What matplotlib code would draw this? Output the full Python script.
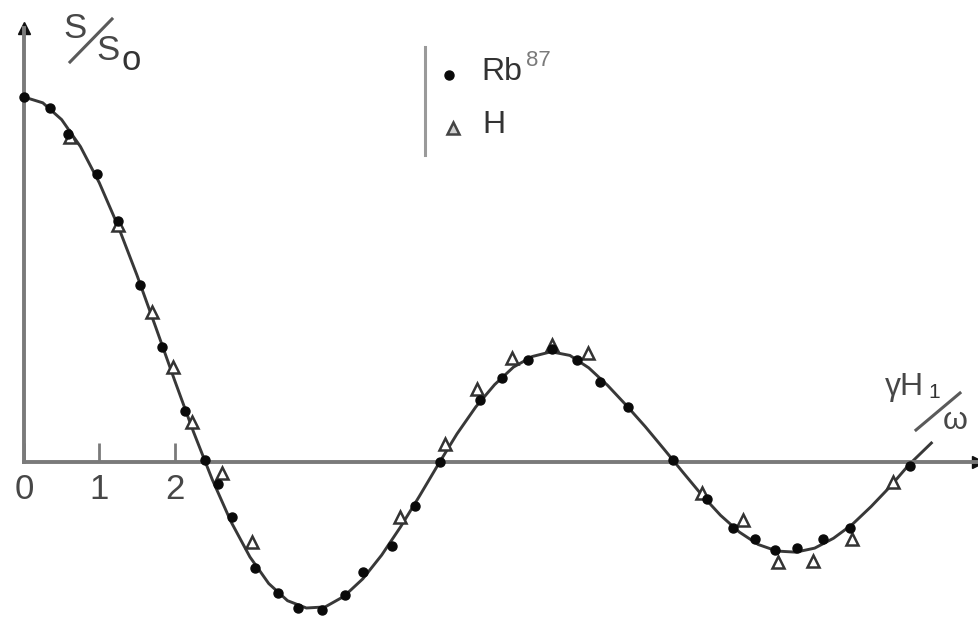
import matplotlib
matplotlib.use("Agg")
import matplotlib.pyplot as plt
from matplotlib.lines import Line2D

# Smooth curve S/S0 versus gamma*H1/omega
curve_x = [0.0, 0.25, 0.5, 0.75, 1.0, 1.25, 1.5, 1.75, 2.0, 2.25, 2.5, 2.75,
           3.0, 3.25, 3.5, 3.75, 4.0, 4.25, 4.5, 4.75, 5.0, 5.25, 5.5, 5.75,
           6.0, 6.25, 6.5, 6.75, 7.0, 7.25, 7.5, 7.75, 8.0, 8.25, 8.5, 8.75,
           9.0, 9.25, 9.5, 9.75, 10.0, 10.25, 10.5, 10.75, 11.0, 11.25, 11.5,
           11.75, 12.05]
curve_y = [1.0, 0.984, 0.938, 0.864, 0.765, 0.646, 0.512, 0.369, 0.224, 0.083,
           -0.048, -0.164, -0.260, -0.333, -0.380, -0.400, -0.397, -0.368,
           -0.320, -0.255, -0.178, -0.094, -0.007, 0.077, 0.151, 0.212, 0.260,
           0.289, 0.302, 0.292, 0.258, 0.210, 0.155, 0.097, 0.035, -0.028,
           -0.090, -0.146, -0.192, -0.226, -0.244, -0.247, -0.236, -0.209,
           -0.171, -0.122, -0.068, -0.008, 0.052]

# Rb87 measurements (filled dots)
rb_x = [0.0, 0.347, 0.589, 0.973, 1.245, 1.538, 1.830, 2.133, 2.406, 2.577,
        2.759, 3.072, 3.375, 3.637, 3.960, 4.263, 4.505, 4.889, 5.191, 5.525,
        6.059, 6.352, 6.695, 7.008, 7.341, 7.654, 8.017, 8.623, 9.067, 9.420,
        9.703, 9.975, 10.268, 10.611, 10.964, 11.762]
rb_y = [1.0, 0.97, 0.90, 0.79, 0.66, 0.485, 0.315, 0.14, 0.005, -0.06, -0.15,
        -0.29, -0.36, -0.40, -0.405, -0.365, -0.30, -0.23, -0.12, 0.0, 0.17,
        0.23, 0.28, 0.31, 0.28, 0.22, 0.15, 0.005, -0.10, -0.18, -0.21, -0.24,
        -0.235, -0.21, -0.18, -0.01]

# H measurements (open triangles)
h_x = [0.609, 1.245, 1.699, 1.982, 2.234, 2.628, 3.032, 4.990, 5.595, 6.019,
       6.483, 7.008, 7.493, 9.007, 9.552, 10.016, 10.480, 10.995, 11.540]
h_y = [0.89, 0.65, 0.41, 0.26, 0.11, -0.03, -0.22, -0.15, 0.05, 0.20, 0.285,
       0.32, 0.30, -0.085, -0.16, -0.275, -0.27, -0.21, -0.055]

tick_vals = [0, 1, 2]
tick_labels = ["0", "1", "2"]

W, H = 979, 622
fig = plt.figure(figsize=(W / 100, H / 100), dpi=100)
ax = fig.add_axes([0, 0, 1, 1])
x0px, y0px, sx, sy = 24, 462, 75.3, 365
ax.set_xlim(-x0px / sx, (W - x0px) / sx)
ax.set_ylim(-(H - y0px) / sy, y0px / sy)

axis_col = "#7a7a7a"
ink = "#383838"
txtc = "#474747"
font = "Liberation Sans"

for s in ["top", "right"]:
    ax.spines[s].set_visible(False)
ax.spines["left"].set_position(("data", 0))
ax.spines["bottom"].set_position(("data", 0))
ax.spines["left"].set_bounds(0, 1.19)
ax.spines["bottom"].set_bounds(0, 12.7)
for s in ["left", "bottom"]:
    ax.spines[s].set_color(axis_col)
    ax.spines[s].set_linewidth(2.8)

ax.set_yticks([])
ax.set_xticks(tick_vals)
ax.set_xticklabels(tick_labels, fontsize=25, color=txtc, family=font)
ax.tick_params(axis="x", direction="in", length=14, width=2, color=axis_col,
               pad=8)

# axis arrow heads
ax.plot([12.67], [0], marker=">", color="#111111", markersize=8, clip_on=False)
ax.plot([0], [1.19], marker="^", color="#111111", markersize=8, clip_on=False)

ax.plot(curve_x, curve_y, color=ink, lw=2.1, zorder=2)
ax.plot(h_x, h_y, linestyle="none", marker="^", markersize=9,
        markerfacecolor="white", markeredgecolor="#333333", markeredgewidth=1.8,
        zorder=3)
ax.plot(rb_x, rb_y, linestyle="none", marker="o", markersize=6.5,
        color="#0a0a0a", zorder=4)


def fx(px):
    return px / W


def fy(py):
    return 1 - py / H


tt = ax.transAxes

# y label  S/S0 (slanted fraction)
ax.text(fx(75), fy(29), "S", transform=tt, fontsize=25, color=txtc,
        ha="center", va="center", family=font)
ax.add_line(Line2D([fx(70), fx(112)], [fy(62), fy(19)], transform=tt,
                   color="#5a5a5a", lw=2.2))
ax.text(fx(108), fy(50), "S", transform=tt, fontsize=25, color=txtc,
        ha="center", va="center", family=font)
ax.text(fx(131), fy(61), "o", transform=tt, fontsize=25, color="#333333",
        ha="center", va="center", family=font)

# x label  gamma H1 / omega
ax.text(fx(904), fy(387), "γH", transform=tt, fontsize=23, color=txtc,
        ha="center", va="center", family=font)
ax.text(fx(934), fy(393), "1", transform=tt, fontsize=15, color="#333333",
        ha="center", va="center", family=font)
ax.add_line(Line2D([fx(916), fx(960)], [fy(430), fy(393)], transform=tt,
                   color="#5a5a5a", lw=2.2))
ax.text(fx(955), fy(421), "ω", transform=tt, fontsize=23, color=txtc,
        ha="center", va="center", family=font)

# legend with bracket
ax.add_line(Line2D([fx(425), fx(425)], [fy(47), fy(155)], transform=tt,
                   color="#9a9a9a", lw=2.2))
ax.plot([fx(449)], [fy(75)], transform=tt, marker="o", color="#0a0a0a",
        markersize=6.5)
ax.plot([fx(453)], [fy(128)], transform=tt, marker="^", markersize=9,
        markerfacecolor="#cfcfcf", markeredgecolor="#444444",
        markeredgewidth=1.8)
ax.text(fx(481), fy(72), "Rb", transform=tt, fontsize=23, color="#333333",
        ha="left", va="center", family=font)
ax.text(fx(526), fy(61), "87", transform=tt, fontsize=16, color="#7a7a7a",
        ha="left", va="center", family=font)
ax.text(fx(482), fy(125), "H", transform=tt, fontsize=23, color="#333333",
        ha="left", va="center", family=font)

fig.savefig("out.png", dpi=100, facecolor="white")
